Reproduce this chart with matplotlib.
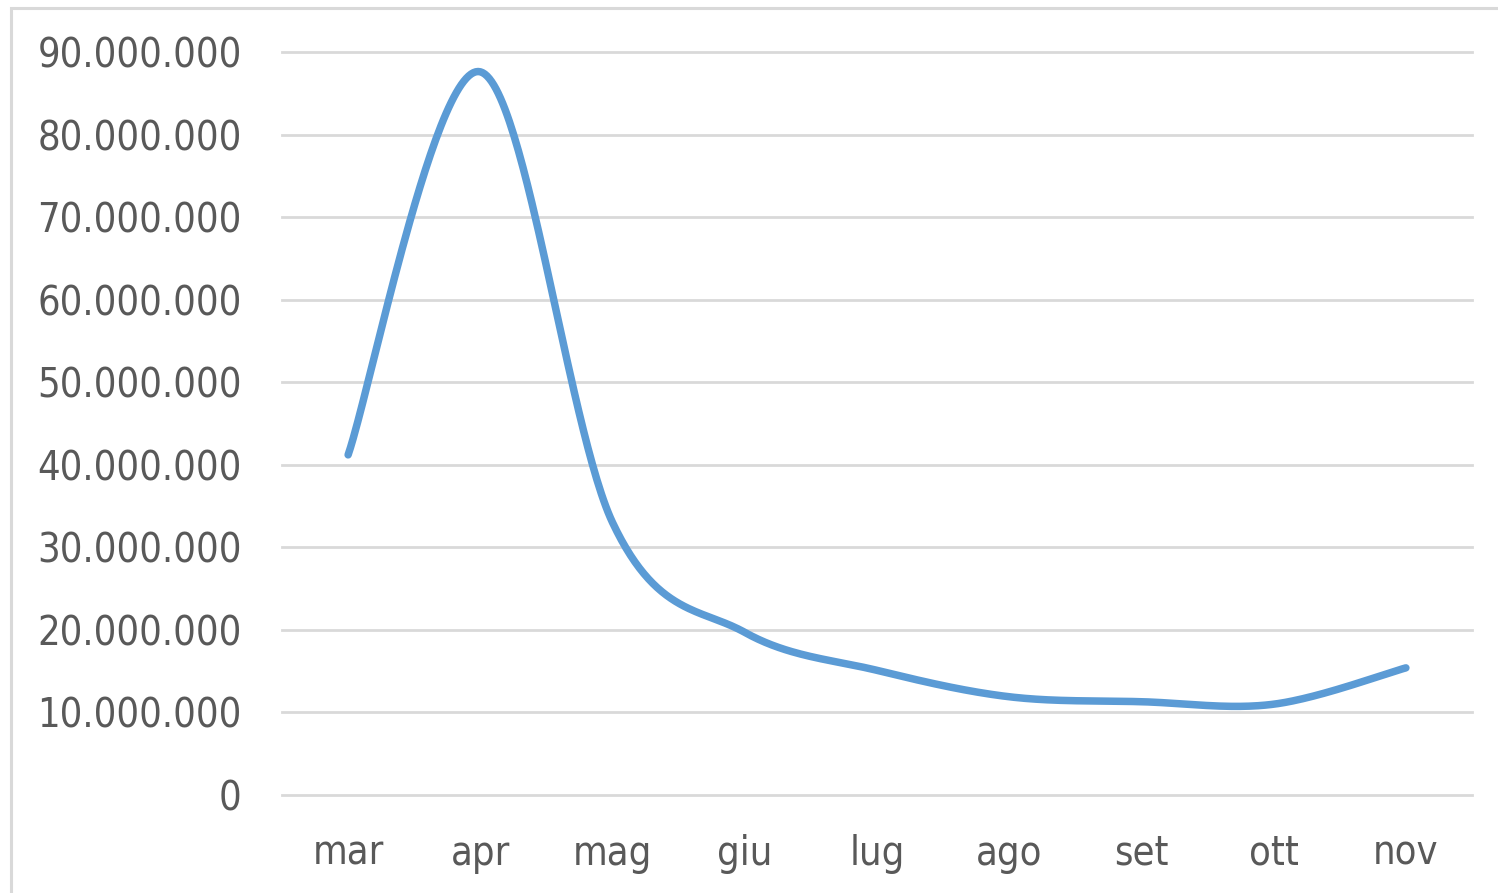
import numpy as np
import matplotlib.pyplot as plt
from matplotlib.patches import Rectangle
from matplotlib.ticker import FuncFormatter

# dati
mesi = ['mar', 'apr', 'mag', 'giu', 'lug', 'ago', 'set', 'ott', 'nov']
valori = [41.2e6, 87.6e6, 33.0e6, 19.7e6, 15.1e6, 11.9e6, 11.3e6, 11.0e6, 15.4e6]
tick_y = [0, 10e6, 20e6, 30e6, 40e6, 50e6, 60e6, 70e6, 80e6, 90e6]


def smooth(xs, ys, n=60):
    # curva levigata tipo Excel (Catmull-Rom -> Bezier)
    px = np.concatenate([[xs[0]], xs, [xs[-1]]])
    py = np.concatenate([[ys[0]], ys, [ys[-1]]])
    ox, oy = [], []
    t = np.linspace(0, 1, n)
    for i in range(1, len(px) - 2):
        p0 = np.array([px[i - 1], py[i - 1]])
        p1 = np.array([px[i], py[i]])
        p2 = np.array([px[i + 1], py[i + 1]])
        p3 = np.array([px[i + 2], py[i + 2]])
        b1 = p1 + (p2 - p0) / 6
        b2 = p2 - (p3 - p1) / 6
        pts = ((1 - t) ** 3)[:, None] * p1 + (3 * (1 - t) ** 2 * t)[:, None] * b1 \
            + (3 * (1 - t) * t ** 2)[:, None] * b2 + (t ** 3)[:, None] * p2
        ox.extend(pts[:, 0]); oy.extend(pts[:, 1])
    return np.array(ox), np.array(oy)


plt.rcParams['font.family'] = ['DejaVu Sans']
plt.rcParams['font.stretch'] = 'condensed'

fig = plt.figure(figsize=(14.98, 8.93), dpi=100)
ax = fig.add_axes([282 / 1498, 1 - 795 / 893, 1190 / 1498, 743 / 893])

x = np.arange(len(mesi))
sx, sy = smooth(x.astype(float), np.array(valori))
ax.plot(sx, sy, color='#5B9BD5', lw=5.4, solid_capstyle='round', zorder=3)

ax.set_xlim(-0.5, len(mesi) - 0.5)
ax.set_ylim(0, 90e6)
ax.set_yticks(tick_y)
ax.yaxis.set_major_formatter(FuncFormatter(lambda v, p: f'{int(v):,}'.replace(',', '.')))
ax.set_xticks(x)
ax.set_xticklabels(mesi)
ax.grid(axis='y', color='#D9D9D9', lw=2)
for gl in ax.get_ygridlines():
    gl.set_clip_on(False)
ax.tick_params(length=0, labelsize=28.5, labelcolor='#595959')
ax.tick_params(axis='y', pad=29)
ax.tick_params(axis='x', pad=28)
for s in ax.spines.values():
    s.set_visible(False)

fig.patches.append(Rectangle((11 / 1498, -0.1), 1.2, 1 - 8 / 893 + 0.1,
                             transform=fig.transFigure, fill=False,
                             edgecolor='#D9D9D9', lw=2.2))

fig.savefig('out.png', dpi=100)
